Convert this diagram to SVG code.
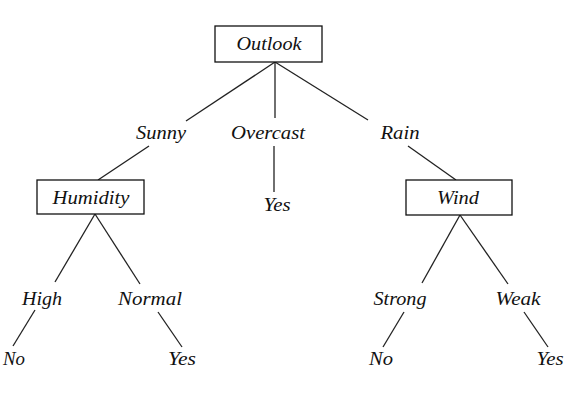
<svg xmlns="http://www.w3.org/2000/svg" width="571" height="403" viewBox="0 0 571 403">
<style>
.box{fill:#fff;stroke:#111;stroke-width:1.3}
.t{font-family:"Times New Roman","Liberation Serif",serif;font-style:italic;font-size:19px;fill:#111;text-anchor:middle}
.c line{stroke:#222;stroke-width:1.3}
</style>
<rect width="571" height="403" fill="#fff"/>
<g class="c" id="connectors">
<line x1="275" y1="62" x2="186" y2="121"/>
<line x1="275" y1="62" x2="275" y2="118"/>
<line x1="275" y1="62" x2="368" y2="120"/>
<line x1="149" y1="146" x2="98" y2="180"/>
<line x1="274" y1="146" x2="274" y2="192"/>
<line x1="408" y1="146" x2="456" y2="180"/>
<line x1="95" y1="214" x2="55" y2="282"/>
<line x1="95" y1="214" x2="140" y2="284"/>
<line x1="460" y1="215" x2="422" y2="283"/>
<line x1="460" y1="215" x2="508" y2="284"/>
<line x1="35" y1="310" x2="13" y2="346"/>
<line x1="158" y1="312" x2="182" y2="347"/>
<line x1="404" y1="312" x2="383" y2="347"/>
<line x1="524" y1="312" x2="548" y2="347"/>
</g>
<g id="outlook"><rect class="box" x="215" y="26" width="107" height="36"/><text class="t" x="269" y="50" textLength="65" lengthAdjust="spacingAndGlyphs">Outlook</text></g>
<g id="sunny"><text class="t" x="161" y="139" textLength="50" lengthAdjust="spacingAndGlyphs">Sunny</text></g>
<g id="overcast"><text class="t" x="268" y="139" textLength="74" lengthAdjust="spacingAndGlyphs">Overcast</text></g>
<g id="rain"><text class="t" x="400" y="139" textLength="39" lengthAdjust="spacingAndGlyphs">Rain</text></g>
<g id="humidity"><rect class="box" x="37" y="180" width="107" height="34"/><text class="t" x="91" y="204" textLength="77" lengthAdjust="spacingAndGlyphs">Humidity</text></g>
<g id="yes-overcast"><text class="t" x="277" y="211" textLength="27" lengthAdjust="spacingAndGlyphs">Yes</text></g>
<g id="wind"><rect class="box" x="406" y="180" width="106" height="35"/><text class="t" x="458" y="204" textLength="42" lengthAdjust="spacingAndGlyphs">Wind</text></g>
<g id="high"><text class="t" x="42" y="305" textLength="40" lengthAdjust="spacingAndGlyphs">High</text></g>
<g id="normal"><text class="t" x="150" y="305" textLength="64" lengthAdjust="spacingAndGlyphs">Normal</text></g>
<g id="strong"><text class="t" x="400" y="305" textLength="53" lengthAdjust="spacingAndGlyphs">Strong</text></g>
<g id="weak"><text class="t" x="518" y="305" textLength="45" lengthAdjust="spacingAndGlyphs">Weak</text></g>
<g id="no-high"><text class="t" x="14" y="365" textLength="22" lengthAdjust="spacingAndGlyphs">No</text></g>
<g id="yes-normal"><text class="t" x="182" y="365" textLength="28" lengthAdjust="spacingAndGlyphs">Yes</text></g>
<g id="no-strong"><text class="t" x="381" y="365" textLength="24" lengthAdjust="spacingAndGlyphs">No</text></g>
<g id="yes-weak"><text class="t" x="550" y="365" textLength="27" lengthAdjust="spacingAndGlyphs">Yes</text></g>
</svg>
